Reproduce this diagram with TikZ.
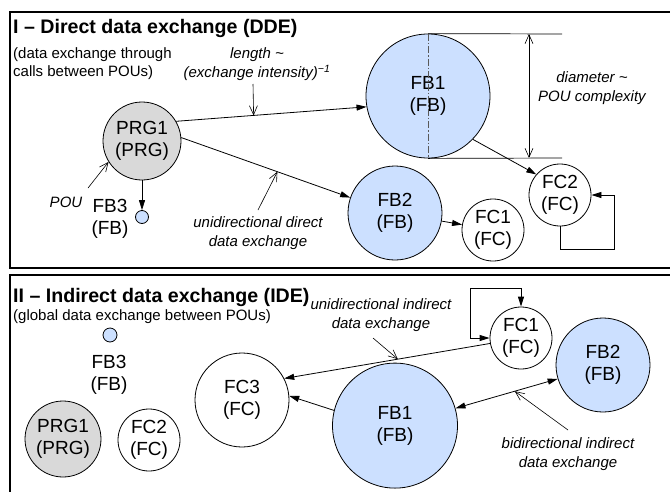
\documentclass[tikz,border=0pt]{standalone}
\usepackage{fontspec}
\setmainfont{Liberation Sans}
\usetikzlibrary{arrows.meta}
\definecolor{fbblue}{RGB}{204,224,255}
\definecolor{prggray}{RGB}{217,217,217}
\newcommand{\nodefnt}{\fontsize{19}{22}\selectfont}
\newcommand{\lblfnt}{\fontsize{15}{19}\selectfont\itshape}
\newcommand{\subfnt}{\fontsize{15}{18.5}\selectfont}
\newcommand{\ttlfnt}{\fontsize{19.6}{22}\selectfont\bfseries}
\begin{document}
\begin{tikzpicture}[x=1pt,y=-1pt,
  pou/.style={circle,draw,line width=0.8pt,inner sep=0pt,align=center,font=\nodefnt},
  fbnode/.style={pou,fill=fbblue},
  prgnode/.style={pou,fill=prggray},
  fcnode/.style={pou,fill=white},
  flow/.style={-{Triangle[length=10pt,width=6pt]},line width=0.8pt},
  biflow/.style={{Triangle[length=10pt,width=6pt]}-{Triangle[length=10pt,width=6pt]},line width=0.8pt},
  pointer/.style={-{Straight Barb[length=9pt,width=8pt]},line width=0.6pt},
  dimarrow/.style={{Straight Barb[length=9pt,width=8pt]}-{Straight Barb[length=9pt,width=8pt]},line width=0.6pt},
  lbl/.style={inner sep=0pt,align=center,font=\lblfnt},
  frame/.style={draw,line width=1.5pt},
  ttl/.style={inner sep=0pt,anchor=base west,font=\ttlfnt},
  subttl/.style={inner sep=0pt,anchor=base west,align=left,font=\subfnt},
  ntext/.style={inner sep=0pt,align=center,font=\nodefnt}]
\useasboundingbox (0,0) rectangle (670,491);
% frames
\draw[frame] (10,12) rectangle (672,268);
\draw[frame] (10,275) rectangle (672,495);

% ================= Panel I =================
\node[ttl] (t1) at (13,33) {I – Direct data exchange (DDE)};
\node[subttl] (s1a) at (13,58) {(data exchange through};
\node[subttl] (s1b) at (13,76.5) {calls between POUs)};

\node[prgnode,minimum size=78pt] (prg1) at (142,141) {PRG1\\(PRG)};
\node[fbnode,minimum size=124pt] (fb1) at (428,96) {FB1\\(FB)};
\node[fbnode,minimum size=94pt] (fb2) at (395,213) {FB2\\(FB)};
\node[fcnode,minimum size=62pt] (fc1) at (493,230) {FC1\\(FC)};
\node[fcnode,minimum size=62pt] (fc2) at (560,195) {FC2\\(FC)};
\node[fbnode,minimum size=13pt] (fb3) at (142,217) {};
\node[ntext] (fb3t) at (110,219) {FB3\\(FB)};

% diameter construction
\draw[gray!70!black,line width=0.7pt,dash pattern=on 7pt off 2pt on 1.5pt off 2pt] (fb1.north) -- (fb1.south);
\coordinate (dtop) at (562,34);
\coordinate (dbot) at (562,158);
\coordinate (dat) at (529,34);
\coordinate (dab) at (529,158);
\draw[line width=0.7pt] (fb1.north) -- (dtop);
\draw[line width=0.7pt] (fb1.south) -- (dbot);
\draw[dimarrow] (dat) -- (dab);
\node[lbl] (diam) at (592,88.5) {diameter \textasciitilde\\POU complexity};

% connectors
\draw[flow] (prg1.30) -- coordinate[pos=0.407] (lenpt) (fb1.190);
\draw[flow] (prg1.5) -- coordinate[pos=0.569] (udept) (fb2.161);
\draw[flow] (prg1) -- (fb3);
\draw[flow] (fb1.-44) -- (fc2.139);
\draw[flow] (fb2) -- (fc1);
\coordinate (loopA) at (614,249);
\draw[flow] (fc2.south) |- (loopA) |- (fc2.east);

% labels with pointers
\node[lbl] (lenlbl) at (257,64) {length \textasciitilde\\(exchange intensity)\textsuperscript{−1}};
\coordinate (lentail) at (253,84);
\draw[pointer] (lentail) -- (lenpt);
\node[lbl] (poulbl) at (66,202) {POU};
\coordinate (poutail) at (88,188);
\draw[pointer] (poutail) -- (prg1.212);
\node[lbl] (udelbl) at (258,233) {unidirectional direct\\data exchange};
\coordinate (udetail) at (258,210);
\draw[pointer] (udetail) -- (udept);

% ================= Panel II =================
\node[ttl] (t2) at (13,302) {II – Indirect data exchange (IDE)};
\node[subttl] (s2) at (13,320) {(global data exchange between POUs)};

\node[fbnode,minimum size=14pt] (bfb3) at (110,335) {};
\node[ntext] (bfb3t) at (109,375) {FB3\\(FB)};
\node[prgnode,minimum size=76pt] (bprg1) at (63,439) {PRG1\\(PRG)};
\node[fcnode,minimum size=62pt] (bfc2) at (149,440) {FC2\\(FC)};
\node[fcnode,minimum size=94pt] (bfc3) at (242,400) {FC3\\(FC)};
\node[fcnode,minimum size=62pt] (bfc1) at (521,338) {FC1\\(FC)};
\node[fbnode,minimum size=94pt] (bfb2) at (603,365) {FB2\\(FB)};
\node[fbnode,minimum size=125pt] (bfb1) at (395,425.6) {FB1\\(FB)};

\draw[flow] (bfc1.190) -- coordinate[pos=0.448] (uiept) (bfc3.27);
\draw[flow] (bfb1.166) -- (bfc3.5);
\draw[biflow] (bfb1.16) -- coordinate[pos=0.58] (biept) (bfb2.197);
\coordinate (loopB) at (470,288);
\draw[biflow] (bfc1.west) -| (loopB) -| (bfc1.north);

\node[lbl] (uielbl) at (381,315) {unidirectional indirect\\data exchange};
\coordinate (uietail) at (373,338);
\draw[pointer] (uietail) -- (uiept);
\node[lbl] (bielbl) at (568,454) {bidirectional indirect\\data exchange};
\coordinate (bietail) at (568,430);
\draw[pointer] (bietail) -- (biept);
\end{tikzpicture}
\end{document}
